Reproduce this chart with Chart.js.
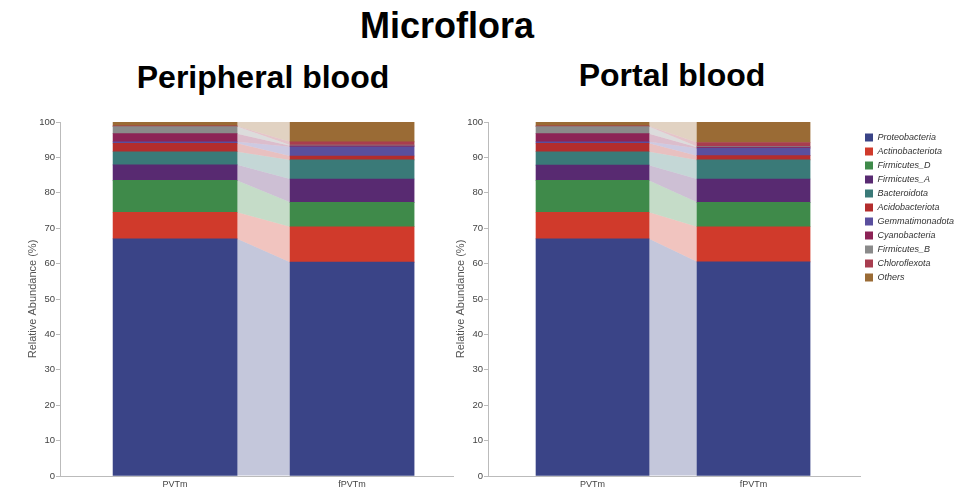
<!DOCTYPE html>
<html>
<head>
<meta charset="utf-8">
<script src="https://cdn.jsdelivr.net/npm/chart.js@4.4.0/dist/chart.umd.min.js"></script>
<style>
  body { margin: 0; background: #fff; width: 956px; height: 491px; position: relative; overflow: hidden;
         font-family: "Liberation Sans", Arial, sans-serif; }
  .t { position: absolute; font-weight: bold; color: #000; white-space: nowrap; transform: translateX(-50%); }
  canvas { position: absolute; }
</style>
</head>
<body>
<div class="t" style="left:447px;top:8px;font-size:36px;line-height:36px">Microflora</div>
<div class="t" style="left:263px;top:61px;font-size:32px;line-height:32px">Peripheral blood</div>
<div class="t" style="left:672px;top:59px;font-size:32px;line-height:32px">Portal blood</div>
<canvas id="c1" width="470" height="396" style="left:0;top:95px"></canvas>
<canvas id="c2" width="536" height="396" style="left:420px;top:95px"></canvas>
<script>
const samples = ['PVTm', 'fPVTm'];
const phyla = ['Proteobacteria', 'Actinobacteriota', 'Firmicutes_D', 'Firmicutes_A', 'Bacteroidota',
  'Acidobacteriota', 'Gemmatimonadota', 'Cyanobacteria', 'Firmicutes_B', 'Chloroflexota', 'Others'];
const colors = ['#3a4487', '#d03a2b', '#3f8a4a', '#582a71', '#3a7a78',
  '#b32d2d', '#5a4f9e', '#8c2356', '#8a8a8a', '#a83d4f', '#9a6b35'];

// relative abundance (%), same order as phyla
const peripheralPVTm  = [67.0, 7.5, 9.0, 4.4, 3.7, 2.4, 0.4, 2.3, 2.0, 0.2, 1.1];
const peripheralFPVTm = [60.4, 10.0, 6.9, 6.6, 5.4, 1.1, 2.6, 0.3, 0.2, 0.9, 5.6];
const portalPVTm      = [67.0, 7.5, 9.0, 4.3, 3.8, 2.4, 0.4, 2.3, 2.0, 0.2, 1.1];
const portalFPVTm     = [60.5, 9.9, 6.9, 6.6, 5.4, 1.2, 2.1, 0.3, 0.2, 1.1, 5.8];

Chart.defaults.font.family = '"Liberation Sans", Arial, sans-serif';

function hexA(hex, a) {
  const n = parseInt(hex.slice(1), 16);
  return 'rgba(' + (n >> 16) + ',' + ((n >> 8) & 255) + ',' + (n & 255) + ',' + a + ')';
}

// light bands joining the same phylum between the two bars
const bands = {
  id: 'bands',
  beforeDatasetsDraw(chart) {
    const ctx = chart.ctx;
    chart.data.datasets.forEach((ds, i) => {
      const meta = chart.getDatasetMeta(i);
      const a = meta.data[0], b = meta.data[1];
      const x1 = a.x + a.width / 2, x2 = b.x - b.width / 2;
      ctx.save();
      ctx.fillStyle = hexA(colors[i], 0.3);
      ctx.beginPath();
      ctx.moveTo(x1, a.y);
      ctx.lineTo(x2, b.y);
      ctx.lineTo(x2, b.base);
      ctx.lineTo(x1, a.base);
      ctx.closePath();
      ctx.fill();
      ctx.restore();
    });
  }
};

function makePanel(id, pv, fpv, o) {
  const datasets = phyla.map((p, i) => ({
    label: p,
    data: [{x: 0, y: pv[i]}, {x: 1, y: fpv[i]}],
    backgroundColor: colors[i],
    borderWidth: 0,
    barThickness: o.barW,
    stack: 's'
  }));
  return new Chart(document.getElementById(id), {
    type: 'bar',
    data: {datasets: datasets},
    plugins: [bands],
    options: {
      responsive: false,
      animation: false,
      layout: {padding: {top: 27, right: o.padR, bottom: 0, left: o.padL}},
      plugins: {
        tooltip: {enabled: false},
        legend: {
          display: o.legend,
          position: 'right',
          align: 'start',
          maxWidth: 96,
          title: {display: true, text: '', font: {size: 5}, padding: 0},
          labels: {boxWidth: 8, boxHeight: 8, padding: 5, color: '#333',
                   font: {size: 9, style: 'italic'}}
        }
      },
      scales: {
        x: {
          type: 'linear', stacked: true, offset: false, min: o.xmin, max: o.xmax,
          grid: {display: false, drawTicks: false},
          border: {color: '#bbb'},
          afterBuildTicks: s => { s.ticks = [{value: 0}, {value: 1}]; },
          ticks: {callback: v => samples[v], font: {size: 9}, color: '#444', padding: 3, maxRotation: 0},
          afterFit: s => { s.height = 15; }
        },
        y: {
          stacked: true, min: 0, max: 100,
          ticks: {stepSize: 10, font: {size: 9.5}, color: '#444', padding: 1},
          grid: {drawOnChartArea: false, tickLength: 4, color: '#bbb'},
          border: {color: '#bbb'},
          title: {display: true, text: 'Relative Abundance (%)', font: {size: 11}, color: '#555',
                  padding: {top: 26, bottom: 0}},
          afterFit: s => { s.width = 60; }
        }
      }
    }
  });
}

makePanel('c1', peripheralPVTm, peripheralFPVTm,
  {barW: 124, xmin: -0.65, xmax: 1.57, padL: 0, padR: 17, legend: false});
makePanel('c2', portalPVTm, portalFPVTm,
  {barW: 113, xmin: -0.649, xmax: 1.661, padL: 8, padR: 0, legend: true});
</script>
</body>
</html>
